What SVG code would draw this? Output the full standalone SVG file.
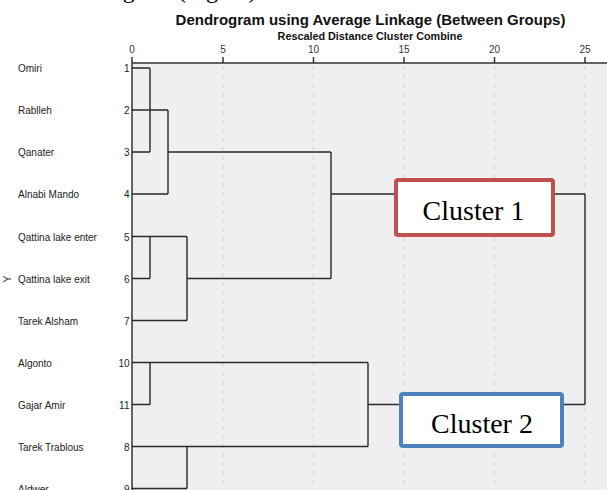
<svg xmlns="http://www.w3.org/2000/svg" width="607" height="490" viewBox="0 0 607 490">
  <style>
    .bg { fill: #efefef; }
    .grid { stroke: #d2d2d2; stroke-width: 1; stroke-dasharray: 4 5; fill: none; }
    .axis { stroke: #333; stroke-width: 1.5; fill: none; }
    .link { stroke: #2a2a2a; stroke-width: 1.4; fill: none; }
    .title { font-family: "Liberation Sans", Arial, sans-serif; font-weight: bold; fill: #111; text-anchor: middle; }
    .tick { font-family: "Liberation Sans", Arial, sans-serif; font-size: 10px; fill: #333; text-anchor: middle; }
    .name { font-family: "Liberation Sans", Arial, sans-serif; font-size: 10px; fill: #222; }
    .num { font-family: "Liberation Sans", Arial, sans-serif; font-size: 10px; fill: #222; text-anchor: end; }
    .clabel { font-family: "Liberation Serif", "Times New Roman", serif; font-size: 28px; fill: #000; text-anchor: middle; }
  </style>

  <rect width="607" height="490" fill="#ffffff"/>

  <!-- caption line of the surrounding page, clipped at the top edge -->
  <text x="56" y="-2" font-family="Liberation Serif, serif" font-size="24" fill="#000">dendrogram (Figure)</text>

  <!-- titles -->
  <text class="title" x="370.5" y="24.5" font-size="15">Dendrogram using Average Linkage (Between Groups)</text>
  <text class="title" x="370" y="39.5" font-size="10.8">Rescaled Distance Cluster Combine</text>

  <!-- plot area -->
  <rect class="bg" x="132" y="63" width="475" height="427"/>
  <g id="grid">
    <line class="grid" x1="223" y1="66" x2="223" y2="490"/>
    <line class="grid" x1="313.5" y1="66" x2="313.5" y2="490"/>
    <line class="grid" x1="404" y1="66" x2="404" y2="490"/>
    <line class="grid" x1="494.5" y1="66" x2="494.5" y2="490"/>
    <line class="grid" x1="585" y1="66" x2="585" y2="490"/>
  </g>

  <!-- distance axis -->
  <g id="axis">
    <line class="axis" x1="132" y1="63" x2="607" y2="63"/>
    <line class="axis" x1="132" y1="57" x2="132" y2="490"/>
    <line class="axis" x1="223" y1="57" x2="223" y2="63"/>
    <line class="axis" x1="313.5" y1="57" x2="313.5" y2="63"/>
    <line class="axis" x1="404" y1="57" x2="404" y2="63"/>
    <line class="axis" x1="494.5" y1="57" x2="494.5" y2="63"/>
    <line class="axis" x1="585" y1="57" x2="585" y2="63"/>
    <text class="tick" x="132" y="53">0</text>
    <text class="tick" x="223" y="53">5</text>
    <text class="tick" x="313.5" y="53">10</text>
    <text class="tick" x="404" y="53">15</text>
    <text class="tick" x="494.5" y="53">20</text>
    <text class="tick" x="585" y="53">25</text>
  </g>

  <!-- rotated axis marker -->
  <text x="0" y="0" font-family="Liberation Sans, sans-serif" font-size="11" fill="#333" text-anchor="middle" transform="translate(11,279) rotate(-90)">Y</text>

  <!-- case labels -->
  <g id="case-1"><text class="name" x="18" y="72">Omiri</text><text class="num" x="129.5" y="72">1</text></g>
  <g id="case-2"><text class="name" x="18" y="114">Rablleh</text><text class="num" x="129.5" y="114">2</text></g>
  <g id="case-3"><text class="name" x="18" y="156">Qanater</text><text class="num" x="129.5" y="156">3</text></g>
  <g id="case-4"><text class="name" x="18" y="198">Alnabi Mando</text><text class="num" x="129.5" y="198">4</text></g>
  <g id="case-5"><text class="name" x="18" y="240.5">Qattina lake enter</text><text class="num" x="129.5" y="240.5">5</text></g>
  <g id="case-6"><text class="name" x="18" y="282.5">Qattina lake exit</text><text class="num" x="129.5" y="282.5">6</text></g>
  <g id="case-7"><text class="name" x="18" y="324.5">Tarek Alsham</text><text class="num" x="129.5" y="324.5">7</text></g>
  <g id="case-10"><text class="name" x="18" y="366.5">Algonto</text><text class="num" x="129.5" y="366.5">10</text></g>
  <g id="case-11"><text class="name" x="18" y="408.5">Gajar Amir</text><text class="num" x="129.5" y="408.5">11</text></g>
  <g id="case-8"><text class="name" x="18" y="451">Tarek Trablous</text><text class="num" x="129.5" y="451">8</text></g>
  <g id="case-9"><text class="name" x="18" y="493">Aldwer</text><text class="num" x="129.5" y="493">9</text></g>

  <!-- dendrogram links -->
  <g id="connectors">
    <!-- cases 1-4 -->
    <path class="link" d="M132,68 H150 M132,152 H150 M150,68 V152 M132,110 H168 M132,194 H168 M168,110 V194 M168,152 H331"/>
    <!-- cases 5-7 -->
    <path class="link" d="M132,236.5 H187 M132,278.5 H150 M150,236.5 V278.5 M187,236.5 V320.5 M132,320.5 H187 M187,278.5 H331"/>
    <!-- join of the first group -->
    <path class="link" d="M331,152 V278.5 M331,194 H585"/>
    <!-- cases 10, 11, 8, 9 -->
    <path class="link" d="M132,362.5 H368 M132,404.5 H150 M150,362.5 V404.5 M132,446.5 H368 M187,446.5 V488.5 M132,488.5 H187 M368,362.5 V446.5 M368,404.5 H585"/>
    <!-- final join -->
    <path class="link" d="M585,194 V404.5"/>
  </g>

  <!-- cluster callouts -->
  <g id="cluster-1">
    <rect x="396" y="180" width="157" height="55" rx="2" fill="#ffffff" stroke="#c0504d" stroke-width="4"/>
    <text class="clabel" x="473.5" y="220">Cluster 1</text>
  </g>
  <g id="cluster-2">
    <rect x="401" y="394" width="161" height="52" rx="2" fill="#ffffff" stroke="#4f81bd" stroke-width="4"/>
    <text class="clabel" x="482" y="433">Cluster 2</text>
  </g>
</svg>
